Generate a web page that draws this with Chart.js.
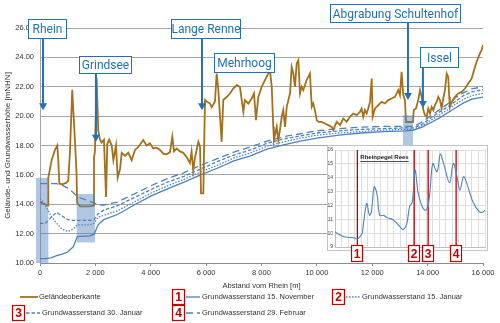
<!DOCTYPE html>
<html>
<head>
<meta charset="utf-8">
<script src="https://cdn.jsdelivr.net/npm/chart.js@4.4.1/dist/chart.umd.min.js"></script>
<style>
  html, body { margin: 0; padding: 0; background: #fff; }
  #wrap { position: relative; width: 500px; height: 323px; }
  #profile { position: absolute; left: 0; top: 0; }
  #gauge { position: absolute; left: 322px; top: 143px; }
</style>
</head>
<body>
<div id="wrap">
  <canvas id="profile" width="500" height="323"></canvas>
  <canvas id="gauge" width="170" height="122"></canvas>
</div>
<script>
// Geländeoberkante along the profile: distance from the Rhine [m], height [mNHN]
const groundDist = [0, 180, 290, 300, 420, 540, 625, 660, 700, 800, 940, 1020, 1080, 1165, 1265, 1320, 1340, 1445, 1805, 1925,
  1950, 1985, 2045, 2105, 2165, 2225, 2310, 2385, 2430, 2500, 2590, 2650, 2745, 2805, 2890, 2950, 3070, 3190, 3310, 3430,
  3550, 3730, 3850, 3970, 4090, 4215, 4335, 4455, 4575, 4695, 4780, 4840, 4935, 5055, 5175, 5300, 5355, 5415, 5475, 5535,
  5600, 5720, 5780, 5815, 5900, 5925, 5960, 6020, 6140, 6200, 6320, 6380, 6440, 6525, 6560, 6620, 6740, 6860, 6980, 7105,
  7220, 7345, 7400, 7525, 7645, 7730, 7800, 7885, 8005, 8125, 8245, 8305, 8370, 8425, 8450, 8550, 8605, 8665, 8730, 8785,
  8850, 8910, 8970, 9030, 9090, 9150, 9210, 9270, 9330, 9390, 9450, 9510, 9630, 9690, 9750, 9815, 9870, 9930, 9995, 10060,
  10175, 10290, 10410, 10535, 10590, 10715, 10835, 10955, 11075, 11195, 11315, 11435, 11555, 11615, 11675, 11735, 11800, 11855, 11920, 11980,
  12015, 12100, 12220, 12340, 12460, 12580, 12700, 12820, 12940, 13000, 13060, 13120, 13180, 13220, 13470, 13500, 13580, 13660, 13725, 13785,
  13845, 13905, 13965, 14025, 14085, 14145, 14205, 14265, 14325, 14385, 14445, 14505, 14565, 14625, 14690, 14745, 14780, 14805, 14870, 14990,
  15105, 15230, 15350, 15465, 15590, 15675, 15770, 15890, 15950, 16000];
const groundHeight = [14.15, 14.0, 13.9, 15.8, 17.0, 17.7, 18.0, 17.0, 15.4, 15.35, 15.45, 15.6, 17.5, 21.8, 18.2, 16.1, 14.1, 13.85, 13.85, 13.9,
  17.2, 17.6, 22.6, 19.0, 18.4, 18.2, 18.4, 14.5, 18.1, 18.4, 18.0, 17.0, 18.0, 15.8, 16.4, 17.5, 17.3, 17.5, 17.0, 17.7,
  17.9, 18.37, 18.0, 18.15, 17.8, 17.85, 17.7, 17.45, 17.4, 17.55, 18.6, 17.6, 17.8, 17.6, 17.5, 17.2, 17.0, 16.8, 17.6, 16.3,
  17.2, 18.25, 17.9, 14.74, 14.74, 17.7, 21.1, 21.0, 20.86, 20.6, 21.0, 22.9, 21.8, 19.3, 18.25, 21.1, 21.3, 21.54, 21.88, 22.11,
  21.99, 20.29, 21.09, 20.86, 21.2, 21.54, 19.73, 21.31, 21.99, 22.45, 22.9, 23.13, 21.99, 19.27, 18.37, 19.27, 18.37, 19.05, 19.95, 20.41,
  19.27, 20.63, 21.09, 21.54, 23.35, 22.9, 21.99, 23.59, 23.81, 21.54, 21.99, 21.77, 22.45, 22.67, 22.9, 20.63, 20.86, 20.41, 19.73, 19.61,
  19.61, 19.5, 19.39, 19.27, 19.05, 19.61, 19.39, 19.84, 19.61, 19.95, 20.18, 20.07, 20.29, 20.52, 19.95, 20.41, 20.18, 20.52, 20.97, 22.56,
  19.95, 20.52, 20.75, 20.97, 20.86, 21.09, 21.2, 21.31, 21.77, 21.43, 23.01, 21.43, 21.09, 19.6, 19.6, 20.41, 20.52, 21.09, 21.77, 21.31,
  20.41, 20.07, 19.95, 20.52, 20.18, 20.63, 20.41, 20.75, 20.97, 21.31, 21.09, 20.52, 21.2, 21.77, 22.9, 22.67, 21.31, 20.63, 20.97, 21.31,
  21.54, 21.65, 21.88, 22.22, 22.56, 23.13, 23.7, 24.27, 24.49, 24.85];

// Grundwasserstände at the four measuring dates, same distance grid
const gwDist = [0, 200, 400, 600, 800, 1000, 1200, 1350, 1800, 1950, 2100, 2300, 2800, 3400, 4000, 4600, 5200, 5800, 6400, 7000,
  7600, 8200, 8800, 9400, 10000, 10800, 11600, 12400, 13200, 13500, 13800, 14100, 14400, 14700, 15000, 15300, 15600, 16000];
const gwNov15 = [10.3, 10.3, 10.35, 10.5, 10.6, 10.75, 11.1, 11.8, 11.85, 11.95, 12.6, 12.95, 13.3, 13.95, 14.55, 15.05, 15.5, 16.0, 16.45, 16.95,
  17.3, 17.75, 18.05, 18.3, 18.5, 18.7, 18.85, 18.95, 19.0, 19.05, 19.25, 19.55, 19.85, 20.2, 20.55, 20.9, 21.15, 21.3];
const gwJan15 = [14.4, 13.9, 13.2, 12.7, 12.3, 12.15, 12.3, 12.6, 12.6, 12.7, 13.1, 13.25, 13.55, 14.15, 14.75, 15.25, 15.7, 16.2, 16.65, 17.15,
  17.5, 17.95, 18.25, 18.5, 18.7, 18.85, 18.95, 19.05, 19.1, 19.1, 19.35, 19.7, 20.05, 20.4, 20.8, 21.15, 21.4, 21.55];
const gwJan30 = [12.7, 12.7, 13.1, 13.45, 13.2, 12.95, 12.9, 12.9, 12.9, 12.95, 13.35, 13.6, 13.9, 14.45, 15.0, 15.5, 15.9, 16.4, 16.9, 17.35,
  17.7, 18.15, 18.45, 18.65, 18.85, 19.0, 19.1, 19.15, 19.2, 19.2, 19.45, 19.85, 20.25, 20.6, 21.0, 21.4, 21.65, 21.8];
const gwFeb29 = [15.4, 15.4, 15.4, 15.4, 15.3, 15.1, 14.8, 14.5, 14.2, 14.1, 13.95, 13.95, 14.15, 14.7, 15.25, 15.75, 16.15, 16.65, 17.1, 17.55,
  17.9, 18.3, 18.6, 18.8, 19.0, 19.15, 19.25, 19.3, 19.3, 19.3, 19.6, 20.0, 20.4, 20.8, 21.25, 21.6, 21.85, 22.0];

const seriesNames = ['Geländeoberkante', 'Grundwasserstand 15. November', 'Grundwasserstand 15. Januar',
  'Grundwasserstand 30. Januar', 'Grundwasserstand 29. Februar'];
const dateBadges = ['1', '2', '3', '4'];

// Rheinpegel Rees, days counted from 22 Oct 2011, level [m]
const gaugeDay = [0, 5, 11, 20, 23, 24, 29, 30, 34, 37, 39, 42, 45, 48, 52, 56, 63, 70, 73, 77,
  80, 83, 86, 89, 93, 97, 100, 102, 105, 109, 111, 113, 117, 123, 127, 131, 134, 138, 141, 148, 155, 159, 161];
const gaugeLevel = [10.08, 9.89, 9.72, 9.67, 9.6, 9.57, 9.96, 10.4, 12.14, 11.29, 11.53, 13.34, 12.86, 11.29, 11.29, 11.12, 10.93, 10.44, 10.25, 10.69,
  11.9, 12.26, 14.55, 12.98, 12.01, 11.65, 12.01, 13.1, 15.03, 14.43, 14.8, 15.71, 14.91, 13.63, 15.03, 14.07, 13.1, 14.07, 13.7, 12.26, 11.53, 11.53, 11.65];
// 15 Nov, 15 Jan, 30 Jan, 29 Feb
const eventDay = [24, 85, 100, 130];

Chart.defaults.font.family = "'Liberation Sans', Arial, sans-serif";
Chart.defaults.color = '#333';

const toPoints = (xs, ys) => xs.map((x, i) => ({ x: x, y: ys[i] }));
const GW_BLUE = '#4f81bd';
const NOTE_BLUE = '#2371b3';
const BADGE_RED = '#c00000';

function drawBadge(ctx, text, left, top, w, h) {
  ctx.save();
  ctx.fillStyle = '#fff';
  ctx.fillRect(left, top, w, h);
  ctx.strokeStyle = BADGE_RED;
  ctx.lineWidth = 1.2;
  ctx.strokeRect(left + 0.5, top + 0.5, w - 1, h - 1);
  ctx.fillStyle = BADGE_RED;
  ctx.font = "bold 12px 'Liberation Sans', Arial, sans-serif";
  ctx.textAlign = 'center';
  ctx.textBaseline = 'middle';
  ctx.fillText(text, left + w / 2, top + h / 2 + 1);
  ctx.restore();
}

// shaded zones and callouts are placed in axis units
const zones = [
  { from: -145, to: 300, top: 15.8, bottom: 10 },
  { from: 1325, to: 1985, top: 14.7, bottom: 11.4 },
  { from: 13110, to: 13470, top: 20.05, bottom: 17.0 }
];
const callouts = [
  { text: 'Rhein', from: -433, to: 975, top: 26.6, bottom: 25.24, arrowX: 110, tipY: 20.4 },
  { text: 'Grindsee', from: 1408, to: 3322, top: 24.08, bottom: 22.86, arrowX: 2020, tipY: 18.25 },
  { text: 'Lange Renne', from: 4731, to: 7259, top: 26.6, bottom: 25.24, arrowX: 5850, tipY: 20.4 },
  { text: 'Mehrhoog', from: 6284, to: 8487, top: 24.29, bottom: 22.93 },
  { text: 'Abgrabung Schultenhof', from: 10473, to: 15204, top: 27.62, bottom: 26.33, arrowX: 13290, tipY: 21.1 },
  { text: 'Issel', from: 13723, to: 15132, top: 24.69, bottom: 23.27, arrowX: 13830, tipY: 20.55 }
];
const legendSlots = [
  { x: 20, y: 297 }, { x: 172, y: 297 }, { x: 332, y: 297 }, { x: 12, y: 313 }, { x: 172, y: 313 }
];

const profileDecor = {
  id: 'profileDecor',
  afterDatasetsDraw(chart) {
    const { ctx, scales: { x, y } } = chart;
    ctx.save();
    ctx.fillStyle = 'rgba(79, 129, 189, 0.45)';
    zones.forEach(z => {
      const x0 = x.getPixelForValue(z.from), x1 = x.getPixelForValue(z.to);
      const y0 = y.getPixelForValue(z.top), y1 = y.getPixelForValue(z.bottom);
      ctx.fillRect(x0, y0, x1 - x0, y1 - y0);
    });
    ctx.restore();
  },
  afterDraw(chart) {
    const { ctx, scales: { x, y } } = chart;
    ctx.save();
    callouts.forEach(c => {
      const left = Math.round(x.getPixelForValue(c.from)), right = Math.round(x.getPixelForValue(c.to));
      const top = Math.round(y.getPixelForValue(c.top)), bottom = Math.round(y.getPixelForValue(c.bottom));
      if (c.arrowX !== undefined) {
        const ax = x.getPixelForValue(c.arrowX), tip = y.getPixelForValue(c.tipY);
        ctx.strokeStyle = NOTE_BLUE;
        ctx.lineWidth = 2;
        ctx.beginPath();
        ctx.moveTo(ax, bottom);
        ctx.lineTo(ax, tip - 5);
        ctx.stroke();
        ctx.fillStyle = NOTE_BLUE;
        ctx.beginPath();
        ctx.moveTo(ax - 4, tip - 7);
        ctx.lineTo(ax + 4, tip - 7);
        ctx.lineTo(ax, tip);
        ctx.closePath();
        ctx.fill();
      }
      ctx.fillStyle = '#fff';
      ctx.fillRect(left, top, right - left, bottom - top);
      ctx.strokeStyle = NOTE_BLUE;
      ctx.lineWidth = 1;
      ctx.strokeRect(left + 0.5, top + 0.5, right - left - 1, bottom - top - 1);
      ctx.fillStyle = NOTE_BLUE;
      ctx.font = "12px Roboto, 'Liberation Sans', sans-serif";
      ctx.textAlign = 'center';
      ctx.textBaseline = 'middle';
      ctx.fillText(c.text, (left + right) / 2, (top + bottom) / 2 + 1);
    });

    // legend under the axis title
    chart.data.datasets.forEach((ds, i) => {
      const slot = legendSlots[i];
      let lineX = slot.x;
      if (i > 0) {
        drawBadge(ctx, dateBadges[i - 1], slot.x, slot.y - 8, 13, 16);
        lineX = slot.x + 14;
      }
      ctx.strokeStyle = ds.borderColor;
      ctx.lineWidth = ds.borderWidth;
      ctx.setLineDash(ds.borderDash || []);
      ctx.beginPath();
      ctx.moveTo(lineX, slot.y);
      ctx.lineTo(lineX + (i > 0 ? 14 : 18), slot.y);
      ctx.stroke();
      ctx.setLineDash([]);
      ctx.fillStyle = '#333';
      ctx.font = "7.5px 'Liberation Sans', Arial, sans-serif";
      ctx.textAlign = 'left';
      ctx.textBaseline = 'middle';
      ctx.fillText(ds.label, lineX + (i > 0 ? 16 : 19), slot.y);
    });
    ctx.restore();
  }
};

new Chart(document.getElementById('profile'), {
  type: 'line',
  data: {
    datasets: [
      { label: seriesNames[0], data: toPoints(groundDist, groundHeight), borderColor: '#a5701c', borderWidth: 1.8 },
      { label: seriesNames[1], data: toPoints(gwDist, gwNov15), borderColor: GW_BLUE, borderWidth: 1.3 },
      { label: seriesNames[2], data: toPoints(gwDist, gwJan15), borderColor: GW_BLUE, borderWidth: 1.3, borderDash: [1.5, 1.5] },
      { label: seriesNames[3], data: toPoints(gwDist, gwJan30), borderColor: GW_BLUE, borderWidth: 1.3, borderDash: [3.5, 2] },
      { label: seriesNames[4], data: toPoints(gwDist, gwFeb29), borderColor: GW_BLUE, borderWidth: 1.3, borderDash: [7, 4] }
    ]
  },
  options: {
    responsive: false,
    animation: false,
    elements: { point: { radius: 0 }, line: { tension: 0 } },
    layout: { padding: { left: 0, right: 17, top: 28, bottom: 0 } },
    plugins: { legend: { display: false }, tooltip: { enabled: false } },
    scales: {
      x: {
        type: 'linear',
        min: 0,
        max: 16000,
        afterFit: s => { s.height = 60; },
        grid: { drawOnChartArea: false, tickLength: 3, color: '#8c8c8c' },
        border: { color: '#8c8c8c' },
        ticks: {
          stepSize: 2000,
          padding: 2,
          maxRotation: 0,
          font: { size: 7.5 },
          callback: v => v < 1000 ? String(v) : Math.floor(v / 1000) + ' ' + String(v % 1000).padStart(3, '0')
        },
        title: { display: true, text: 'Abstand vom Rhein [m]', font: { size: 7.5 }, padding: { top: 0, bottom: 33 } }
      },
      y: {
        min: 10,
        max: 26,
        afterFit: s => { s.width = 40; },
        grid: { color: '#a6a6a6', drawTicks: false },
        border: { color: '#a6a6a6' },
        ticks: { stepSize: 2, padding: 6, font: { size: 7.5 }, callback: v => v.toFixed(2) },
        title: { display: true, text: 'Gelände- und Grundwasserhöhe [mNHN]', font: { size: 8 }, padding: { top: 3, bottom: 0 } }
      }
    }
  },
  plugins: [profileDecor]
});

// inset: Rhine gauge at Rees with the four measuring dates
const gaugeDecor = {
  id: 'gaugeDecor',
  beforeDraw(chart) {
    const { ctx } = chart;
    ctx.save();
    ctx.fillStyle = '#fff';
    ctx.fillRect(5, 2, 161, 106);
    ctx.strokeStyle = '#c4c4c4';
    ctx.lineWidth = 1;
    ctx.strokeRect(5.5, 2.5, 160, 105);
    ctx.restore();
  },
  afterDraw(chart) {
    const { ctx, scales: { x } } = chart;
    ctx.save();
    ctx.fillStyle = '#222';
    ctx.font = "bold 6px 'Liberation Sans', Arial, sans-serif";
    ctx.textAlign = 'center';
    ctx.textBaseline = 'middle';
    ctx.fillText('Rheinpegel Rees', 62.5, 14);
    const w = ctx.measureText('Rheinpegel Rees').width;
    ctx.strokeStyle = '#222';
    ctx.lineWidth = 0.8;
    ctx.beginPath();
    ctx.moveTo(62.5 - w / 2, 18.5);
    ctx.lineTo(62.5 + w / 2, 18.5);
    ctx.stroke();
    eventDay.forEach((d, i) => {
      const px = x.getPixelForValue(d);
      drawBadge(ctx, dateBadges[i], Math.round(px - 6), 102, 12, 17);
    });
    ctx.restore();
  }
};

new Chart(document.getElementById('gauge'), {
  type: 'line',
  data: {
    datasets: [
      { data: toPoints(gaugeDay, gaugeLevel), borderColor: GW_BLUE, borderWidth: 1.1, tension: 0.35 },
      ...eventDay.map(d => ({ data: [{ x: d, y: 16 }, { x: d, y: 9 }], borderColor: BADGE_RED, borderWidth: 1.3 }))
    ]
  },
  options: {
    responsive: false,
    animation: false,
    elements: { point: { radius: 0 } },
    layout: { padding: { left: 5, right: 7, top: 7, bottom: 18 } },
    plugins: { legend: { display: false }, tooltip: { enabled: false } },
    scales: {
      x: {
        type: 'linear',
        min: 0,
        max: 161,
        afterFit: s => { s.height = 0; },
        grid: { color: '#dedede', drawTicks: false },
        border: { color: '#bfbfbf' },
        ticks: { display: false, stepSize: 7 }
      },
      y: {
        min: 9,
        max: 16,
        afterFit: s => { s.width = 8; },
        grid: { color: '#dedede', drawTicks: false },
        border: { color: '#bfbfbf' },
        ticks: { stepSize: 1, padding: 2, font: { size: 5 }, color: '#444' }
      }
    }
  },
  plugins: [gaugeDecor]
});
</script>
</body>
</html>
